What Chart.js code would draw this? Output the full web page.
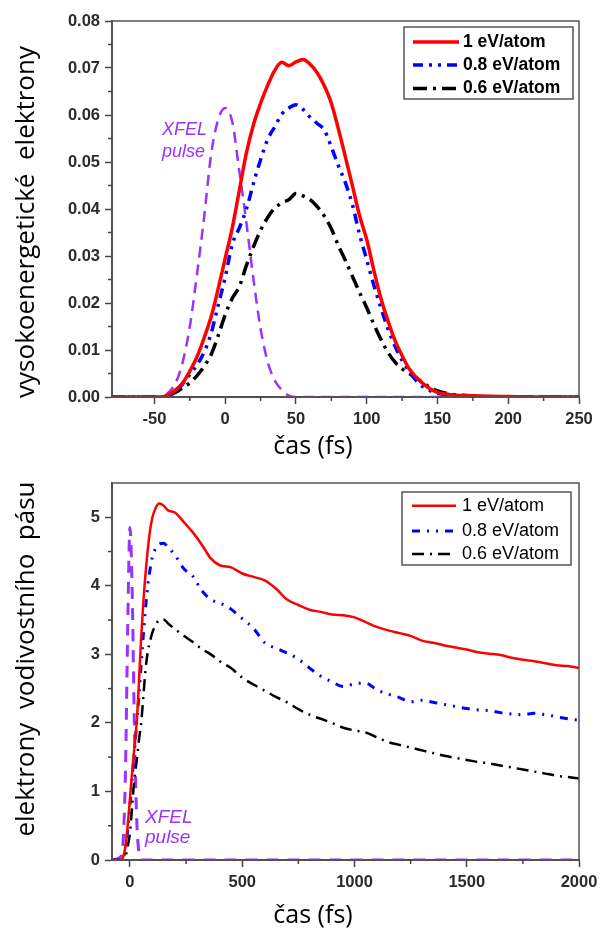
<!DOCTYPE html>
<html>
<head>
<meta charset="utf-8">
<script src="https://cdn.jsdelivr.net/npm/chart.js@4.4.1/dist/chart.umd.min.js"></script>
<style>
  body { margin: 0; background: #fff; }
  canvas { display: block; }
</style>
</head>
<body>
<canvas id="chart-top" width="600" height="464"></canvas>
<canvas id="chart-bottom" width="600" height="464"></canvas>
<script>
// --- data ---
const seriesLabels = ['1 eV/atom', '0.8 eV/atom', '0.6 eV/atom'];
const pulseText = ['XFEL', 'pulse'];

// horni graf: vysokoenergeticke elektrony (cas v fs)
const topTime = [-80, -60, -50,
  -45, -40, -35, -30, -25, -20, -15, -10, -5, 0, 5, 10, 15, 20, 25, 30, 35, 40,
  45, 50, 55, 60, 65, 70, 75, 80, 85, 90, 95, 100, 105, 110, 115, 120, 125, 130,
  135, 140, 145, 150,
  160, 170, 180, 200, 225, 250];
const topRed = [0, 0, 0,
  0, 0.0005, 0.0015, 0.003, 0.0055, 0.0085, 0.0125, 0.017, 0.023, 0.0295, 0.036, 0.044, 0.052, 0.058, 0.0625, 0.0663, 0.0695, 0.0712,
  0.0705, 0.0713, 0.0718, 0.0708, 0.069, 0.0662, 0.0625, 0.057, 0.051, 0.0448, 0.0385, 0.0335, 0.027, 0.021, 0.0162, 0.012, 0.0088, 0.006,
  0.0042, 0.0028, 0.0017, 0.001,
  0.0005, 0.0003, 0.0002, 0.0001, 0, 0];
const topBlue = [0, 0, 0,
  0, 0.0004, 0.0012, 0.0028, 0.0048, 0.0068, 0.0095, 0.0135, 0.0195, 0.0255, 0.0325, 0.036, 0.04, 0.0455, 0.0505, 0.0548, 0.0575, 0.0602,
  0.0615, 0.0622, 0.0612, 0.0595, 0.0582, 0.0568, 0.0532, 0.0492, 0.0455, 0.0408, 0.0345, 0.0292, 0.0238, 0.019, 0.0145, 0.0108, 0.0078, 0.0055,
  0.0035, 0.0021, 0.0013, 0.0008,
  0.0004, 0.0002, 0.0001, 0, 0, 0];
const topBlack = [0, 0, 0,
  0, 0.0003, 0.001, 0.002, 0.003, 0.0045, 0.0065, 0.009, 0.013, 0.0175, 0.021, 0.0235, 0.028, 0.032, 0.0355, 0.0382, 0.0402, 0.0413,
  0.042, 0.0433, 0.0428, 0.042, 0.0405, 0.0385, 0.0358, 0.0322, 0.029, 0.0256, 0.0222, 0.019, 0.0155, 0.0123, 0.0095, 0.0074, 0.006, 0.005,
  0.004, 0.003, 0.002, 0.0013,
  0.0006, 0.0003, 0.0001, 0, 0, 0];
const topPulse = [0, 0, 0,
  0, 0.001, 0.003, 0.0075, 0.015, 0.026, 0.038, 0.0515, 0.059, 0.0615, 0.0585, 0.048, 0.037, 0.025, 0.0145, 0.0075, 0.0035, 0.0015,
  0.0003, 0, 0, 0, 0, 0, 0, 0, 0, 0, 0, 0, 0, 0, 0, 0, 0, 0,
  0, 0, 0, 0,
  0, 0, 0, 0, 0, 0];
const topXTicks = [-50, 0, 50, 100, 150, 200, 250];
const topXMinor = [-25, 25, 75, 125, 175, 225];
const topYTicks = [0, 0.01, 0.02, 0.03, 0.04, 0.05, 0.06, 0.07, 0.08];
const topYMinor = [0.005, 0.015, 0.025, 0.035, 0.045, 0.055, 0.065, 0.075];

// dolni graf: elektrony vodivostniho pasu
const bottomTime = [-80, -40, -30, -20, -10, 0, 10, 20, 30, 40, 50, 60, 70, 80, 90, 100,
  115, 130, 150, 170, 200, 240, 280, 320, 360, 400,
  450, 500, 550, 600, 650, 700, 750, 800, 850, 900, 950, 1000, 1050, 1100, 1150, 1200,
  1250, 1300, 1350, 1400, 1450, 1500, 1550, 1600, 1650, 1700, 1750, 1800, 1850, 1900, 1950, 2000];
const bottomRed = [0, 0, 0.05, 0.2, 0.5, 0.9, 1.3, 1.65, 2.0, 2.6, 3.25, 3.78, 4.2, 4.55, 4.82, 5.0,
  5.14, 5.2, 5.17, 5.1, 5.07, 4.93, 4.78, 4.6, 4.4, 4.3,
  4.27, 4.18, 4.13, 4.08, 3.96, 3.8, 3.72, 3.65, 3.62, 3.58, 3.57, 3.54, 3.47, 3.4, 3.35, 3.31,
  3.27, 3.2, 3.17, 3.13, 3.1, 3.07, 3.03, 3.01, 2.99, 2.95, 2.92, 2.9, 2.87, 2.84, 2.83, 2.8];
const bottomBlue = [0, 0, 0.03, 0.15, 0.45, 0.8, 1.2, 1.6, 2.0, 2.4, 2.85, 3.3, 3.7, 4.02, 4.25, 4.42,
  4.55, 4.61, 4.62, 4.56, 4.45, 4.25, 4.14, 3.93, 3.8, 3.75,
  3.66, 3.52, 3.38, 3.17, 3.09, 3.02, 2.93, 2.8, 2.68, 2.6, 2.53, 2.57, 2.58, 2.48, 2.42, 2.37,
  2.31, 2.33, 2.3, 2.27, 2.24, 2.21, 2.19, 2.18, 2.15, 2.13, 2.12, 2.14, 2.12, 2.09, 2.06, 2.04];
const bottomBlack = [0, 0, 0, 0.05, 0.2, 0.4, 0.8, 1.2, 1.45, 1.75, 2.0, 2.4, 2.8, 3.05, 3.2, 3.32,
  3.43, 3.5, 3.51, 3.45, 3.37, 3.27, 3.18, 3.08, 3.0, 2.9,
  2.8, 2.66, 2.56, 2.47, 2.38, 2.3, 2.2, 2.12, 2.06, 2.0, 1.93, 1.89, 1.86, 1.79, 1.72, 1.68,
  1.64, 1.6, 1.56, 1.52, 1.49, 1.46, 1.43, 1.41, 1.38, 1.35, 1.32, 1.29, 1.26, 1.23, 1.21, 1.19];
const bottomPulse = [0, 0.05, 0.3, 1.3, 3.4, 4.85, 3.9, 1.9, 0.6, 0.1, 0, 0, 0, 0, 0, 0,
  0, 0, 0, 0, 0, 0, 0, 0, 0, 0,
  0, 0, 0, 0, 0, 0, 0, 0, 0, 0, 0, 0, 0, 0, 0, 0,
  0, 0, 0, 0, 0, 0, 0, 0, 0, 0, 0, 0, 0, 0, 0, 0];
const bottomXTicks = [0, 500, 1000, 1500, 2000];
const bottomXMinor = [250, 750, 1250, 1750];
const bottomYTicks = [0, 1, 2, 3, 4, 5];
const bottomYMinor = [0.5, 1.5, 2.5, 3.5, 4.5];

const RED = '#ff0000', BLUE = '#0000ff', BLACK = '#000000', PURPLE = '#9933ff';
const tickFont = { family: '"Liberation Sans", Arial, sans-serif', size: 16.5, weight: 'bold' };

function toPoints(times, values) {
  return times.map((t, i) => ({ x: t, y: values[i] }));
}

// ramecek, vedlejsi tiky, popisky os, XFEL text a legenda
const decorPlugin = {
  id: 'decor',
  afterDatasetsDraw(chart, args, o) {
    const { ctx, chartArea: a, scales } = chart;
    ctx.save();
    ctx.strokeStyle = '#555';
    ctx.lineWidth = 1.5;
    ctx.strokeRect(a.left, a.top, a.right - a.left, a.bottom - a.top);

    ctx.strokeStyle = '#444';
    o.xMinor.forEach(v => {
      const px = scales.x.getPixelForValue(v);
      ctx.beginPath(); ctx.moveTo(px, a.bottom); ctx.lineTo(px, a.bottom + 4); ctx.stroke();
    });
    o.yMinor.forEach(v => {
      const py = scales.y.getPixelForValue(v);
      ctx.beginPath(); ctx.moveTo(a.left, py); ctx.lineTo(a.left - 4, py); ctx.stroke();
    });

    // popisky os
    ctx.fillStyle = '#000';
    ctx.textAlign = 'center';
    ctx.textBaseline = 'middle';
    ctx.font = '25px "Open Sans", sans-serif';
    ctx.fillText(o.xTitle.text, o.xTitle.x, o.xTitle.y);
    ctx.save();
    ctx.translate(o.yTitle.x, o.yTitle.y);
    ctx.rotate(-Math.PI / 2);
    ctx.font = '26px "Open Sans", sans-serif';
    ctx.fillText(o.yTitle.text, 0, 0);
    ctx.restore();

    // XFEL pulse
    ctx.fillStyle = PURPLE;
    ctx.textAlign = 'left';
    ctx.textBaseline = 'alphabetic';
    ctx.font = 'italic ' + o.pulse.size + 'px "Liberation Sans", Arial, sans-serif';
    o.pulse.at.forEach((p, i) => {
      ctx.fillText(pulseText[i], scales.x.getPixelForValue(p[0]), scales.y.getPixelForValue(p[1]));
    });

    // legenda
    const L = o.legend;
    ctx.fillStyle = '#fff';
    ctx.fillRect(L.x, L.y, L.w, L.h);
    ctx.strokeStyle = '#555';
    ctx.lineWidth = 1.5;
    ctx.strokeRect(L.x, L.y, L.w, L.h);
    ctx.font = L.font;
    ctx.textBaseline = 'middle';
    L.rows.forEach((ry, i) => {
      const ds = chart.data.datasets[i];
      ctx.save();
      ctx.strokeStyle = ds.borderColor;
      ctx.lineWidth = ds.borderWidth;
      ctx.setLineDash(ds.borderDash || []);
      ctx.beginPath(); ctx.moveTo(L.lineX[0], ry); ctx.lineTo(L.lineX[1], ry); ctx.stroke();
      ctx.restore();
      ctx.fillStyle = '#000';
      ctx.fillText(ds.label, L.textX, ry);
    });
    ctx.restore();
  }
};

function axisConfig(min, max, ticks, fmt, size, pad) {
  return {
    type: 'linear', min: min, max: max,
    afterBuildTicks: s => { s.ticks = ticks.map(v => ({ value: v })); },
    afterFit: size,
    grid: { drawOnChartArea: false, tickLength: 7, tickColor: '#444', tickWidth: 1.5 },
    border: { color: '#444', width: 2 },
    ticks: { font: tickFont, color: '#2b2b2b', padding: pad, maxRotation: 0, autoSkip: false,
      callback: v => fmt(v) }
  };
}

function buildChart(id, c) {
  return new Chart(document.getElementById(id), {
    type: 'line',
    data: {
      datasets: [
        { label: seriesLabels[0], data: toPoints(c.time, c.red), borderColor: RED, borderWidth: c.lw[0] },
        { label: seriesLabels[1], data: toPoints(c.time, c.blue), borderColor: BLUE, borderWidth: c.lw[1], borderDash: c.dash[0] },
        { label: seriesLabels[2], data: toPoints(c.time, c.black), borderColor: BLACK, borderWidth: c.lw[2], borderDash: c.dash[1] },
        { label: 'XFEL pulse', data: toPoints(c.time, c.pulse), borderColor: PURPLE, borderWidth: c.lw[3], borderDash: c.dash[2] }
      ]
    },
    options: {
      responsive: false,
      animation: false,
      devicePixelRatio: 1,
      layout: { padding: { top: c.padTop, right: 21, left: 0, bottom: 0 } },
      elements: { point: { radius: 0 }, line: { tension: 0, cubicInterpolationMode: 'monotone', borderCapStyle: 'butt' } },
      scales: {
        x: axisConfig(c.xMin, c.xMax, c.xTicks, v => String(v),
          s => { s.height = c.xHeight; s.paddingLeft = 0; s.paddingRight = 0; }, 6),
        y: axisConfig(c.yMin, c.yMax, c.yTicks, c.yFmt, s => { s.width = 112; }, 5)
      },
      plugins: {
        legend: { display: false },
        tooltip: { enabled: false },
        decor: c.decor
      }
    },
    plugins: [decorPlugin]
  });
}

buildChart('chart-top', {
  time: topTime, red: topRed, blue: topBlue, black: topBlack, pulse: topPulse,
  lw: [3.5, 3.5, 3.5, 2.5],
  dash: [[10, 6, 3, 6, 3, 6], [14, 6, 3, 6], [11, 7]],
  padTop: 21, xHeight: 67,
  xMin: -80, xMax: 250, xTicks: topXTicks,
  yMin: 0, yMax: 0.08, yTicks: topYTicks, yFmt: v => Number(v).toFixed(2),
  decor: {
    xMinor: topXMinor, yMinor: topYMinor,
    xTitle: { text: 'čas (fs)', x: 313, y: 447 },
    yTitle: { text: 'vysokoenergetické  elektrony', x: 27, y: 222 },
    pulse: { size: 18, at: [[-44.7, 0.0557], [-44.7, 0.0511]] },
    legend: { x: 404, y: 27, w: 169, h: 72, rows: [42, 65, 88.5], lineX: [413, 459], textX: 463,
      font: 'bold 17.5px "Liberation Sans", Arial, sans-serif' }
  }
});

buildChart('chart-bottom', {
  time: bottomTime, red: bottomRed, blue: bottomBlue, black: bottomBlack, pulse: bottomPulse,
  lw: [2.5, 3, 2.5, 3],
  dash: [[8, 7, 2, 7, 2, 7], [12, 6, 2, 6], [12, 9]],
  padTop: 19, xHeight: 68,
  xMin: -80, xMax: 2000, xTicks: bottomXTicks,
  yMin: 0, yMax: 5.5, yTicks: bottomYTicks, yFmt: v => String(v),
  decor: {
    xMinor: bottomXMinor, yMinor: bottomYMinor,
    xTitle: { text: 'čas (fs)', x: 313, y: 452 },
    yTitle: { text: 'elektrony  vodivostního  pásu', x: 27, y: 195 },
    pulse: { size: 19, at: [[67, 0.54], [67, 0.25]] },
    legend: { x: 402, y: 28, w: 169, h: 73, rows: [41.7, 67, 90], lineX: [412, 456], textX: 462,
      font: '18px "Liberation Sans", Arial, sans-serif' }
  }
});
</script>
</body>
</html>
